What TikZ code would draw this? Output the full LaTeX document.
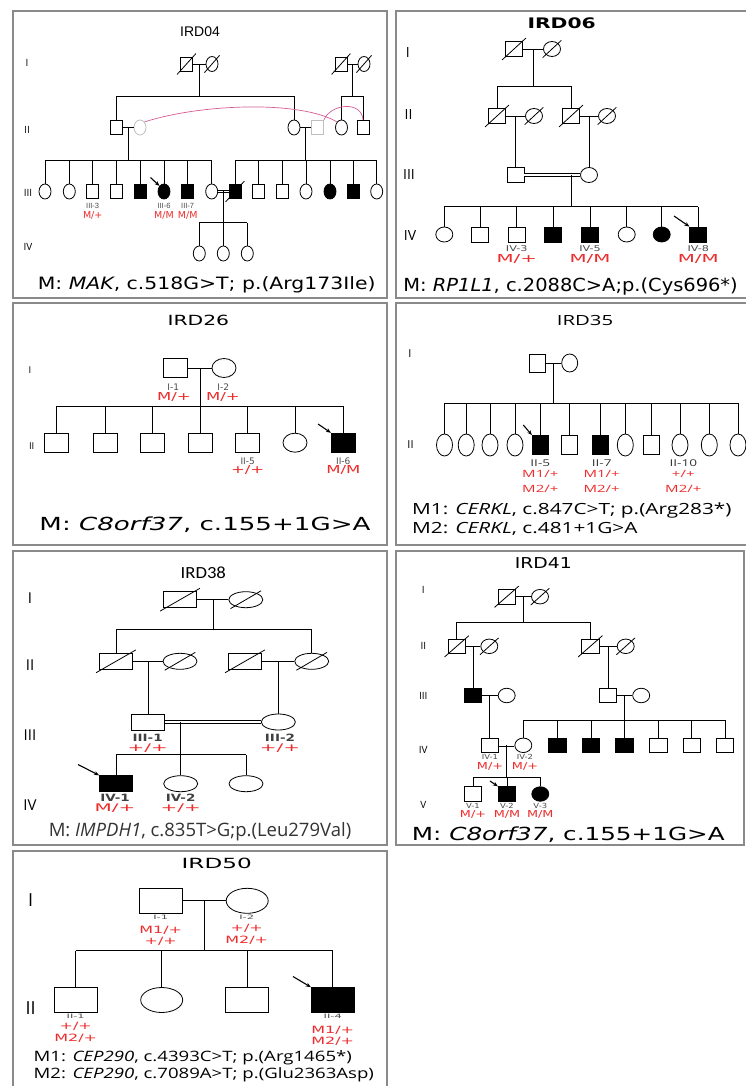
\documentclass[tikz,border=0pt]{standalone}
\usepackage{fontspec}
\setmainfont{Open Sans}
\newfontfamily\dejavu{DejaVu Sans}
\newfontfamily\arial{Liberation Sans}
\newfontfamily\calibri{Carlito}
\usepackage{graphicx}
\usetikzlibrary{arrows.meta, calc, shapes.geometric}

\definecolor{vermelho}{RGB}{238,44,44}
\definecolor{rosa}{RGB}{214,92,150}
\definecolor{moldura}{RGB}{138,138,138}

\newcommand{\tam}[1]{\fontsize{#1}{#1}\selectfont}
\newcommand{\esticar}[2]{\scalebox{#1}[1]{#2}}
\newcommand{\falecido}[1]{\draw ([shift={(-3pt,-3pt)}]#1.south west) -- ([shift={(3pt,3pt)}]#1.north east);}

\begin{document}
\begin{tikzpicture}[
    x=1pt, y=-1pt,
    line width=0.8pt,
    painel/.style={draw=moldura, line width=2.6pt},
    homem/.style={draw, rectangle, inner sep=0pt, fill=white},
    mulher/.style={draw, ellipse, inner sep=0pt, fill=white},
    afetado/.style={fill=black},
    claro/.style={draw=black!25},
    consang/.style={double, double distance=1.8pt},
    geracao/.style={inner sep=0pt, font=\tam{10}},
    ident/.style={inner sep=0pt, text=black!70},
    geno/.style={inner sep=0pt, text=vermelho},
    rotulo/.style={inner sep=0pt},
    seta/.style={-{Stealth[length=5pt, width=4pt]}, line width=1.1pt},
    ligacao/.style={draw=rosa, line width=0.7pt}
]

\useasboundingbox (0,0) rectangle (746,1086);
\fill[white] (0,0) rectangle (746,1086);

% ============================================================
% IRD04
% ============================================================

\draw[painel] (13,11) rectangle (387,298);
\node[rotulo, font=\arial\tam{14}] (tit04) at (200,32) {IRD04};
\node[geracao] (ger04a) at (27,63) {I};
\node[geracao] (ger04b) at (27,130) {II};
\node[geracao] (ger04c) at (28,193) {III};
\node[geracao] (ger04d) at (28,247) {IV};

\begin{scope}[
    homem/.append style={minimum width=12pt, minimum height=14pt},
    mulher/.append style={minimum width=12pt, minimum height=15pt},
    ident/.append style={font=\arial\tam{7.5}},
    geno/.append style={font=\dejavu\tam{9.5}}
]
\node[homem] (a1) at (186.5,64) {};
\node[mulher] (a2) at (212,64) {};
\node[homem] (a3) at (341,64) {};
\node[mulher] (a4) at (364,64) {};
\foreach \n in {a1,a2,a3,a4} \falecido{\n}
\draw (a1) -- (a2);
\draw (a3) -- (a4);
\coordinate (a12) at ($(a1)!.5!(a2)$);
\coordinate (a34) at ($(a3)!.5!(a4)$);

\node[homem] (b1) at (116,127.5) {};
\node[mulher, claro] (b2) at (140,127.5) {};
\node[mulher] (b3) at (294,127.5) {};
\node[homem, claro] (b4) at (317.5,127.5) {};
\node[mulher] (b5) at (341.5,127.5) {};
\node[homem] (b6) at (363,127.5) {};
\draw (b1) -- (b2);
\draw (b3) -- (b4);
\draw (a12) -- (a12 |- 0,96);
\draw (a34) -- (a34 |- 0,96);
\draw (b1 |- 0,96) -- (b3 |- 0,96);
\draw (b5 |- 0,96) -- (b6 |- 0,96);
\foreach \n in {b1,b3,b5,b6} \draw (\n.north) -- (\n |- 0,96);
\coordinate (b12) at ($(b1)!.5!(b2)$);
\coordinate (b34) at ($(b3)!.5!(b4)$);
\draw[ligacao] (b2.north east) .. controls (200,104) and (300,100) .. (b5.north west);
\draw[ligacao] (b4.north east) .. controls (330,104) and (362,100) .. (b6.north);

\node[mulher] (c1) at (45,191.5) {};
\node[mulher] (c2) at (69.3,191.5) {};
\node[homem] (c3) at (92.7,191.5) {};
\node[homem] (c4) at (116.7,191.5) {};
\node[homem, afetado] (c5) at (140,191.5) {};
\node[mulher, afetado] (c6) at (164,191.5) {};
\node[homem, afetado] (c7) at (187.7,191.5) {};
\node[mulher] (c8) at (211.7,191.5) {};
\node[homem, afetado] (d1) at (235,191.5) {};
\node[homem] (d2) at (258.3,191.5) {};
\node[homem] (d3) at (282.7,191.5) {};
\node[mulher] (d4) at (306,191.5) {};
\node[mulher, afetado] (d5) at (330,191.5) {};
\node[homem, afetado] (d6) at (353.3,191.5) {};
\node[mulher] (d7) at (376.7,191.5) {};
\draw (b12) -- (b12 |- 0,160);
\draw (b34) -- (b34 |- 0,160);
\draw (c1 |- 0,160) -- (c8 |- 0,160);
\draw (d1 |- 0,160) -- (d7 |- 0,160);
\foreach \i in {1,...,8} \draw (c\i.north) -- (c\i |- 0,160);
\foreach \i in {1,...,7} \draw (d\i.north) -- (d\i |- 0,160);
\falecido{d1}
\draw[consang] (c8) -- (d1);
\coordinate (cd) at ($(c8)!.5!(d1)$);

\node[mulher] (e1) at (199.3,253.5) {};
\node[mulher] (e2) at (223.3,253.5) {};
\node[mulher] (e3) at (247.3,253.5) {};
\draw (cd) -- (cd |- 0,222.7);
\draw (e1 |- 0,222.7) -- (e3 |- 0,222.7);
\foreach \i in {1,2,3} \draw (e\i.north) -- (e\i |- 0,222.7);

\node[ident] (id04a) at (92.7,205.5) {III-3};
\node[geno] (gen04a) at (92.7,215) {M/+};
\node[ident] (id04b) at (164,205.5) {III-6};
\node[geno] (gen04b) at (164,215) {M/M};
\node[ident] (id04c) at (187.7,205.5) {III-7};
\node[geno] (gen04c) at (187.7,215) {M/M};
\coordinate (s04) at (150.5,177.5);
\draw[seta] (s04) -- (c6.north west);
\end{scope}

\node[rotulo, font=\dejavu\tam{17}] (rod04) at (206.7,285) {\esticar{1.2}{M: \textit{MAK}, c.518G>T; p.(Arg173Ile)}};

% ============================================================
% IRD06
% ============================================================

\draw[painel] (396,11) rectangle (752,298);
\node[rotulo, font=\dejavu\bfseries\tam{14.5}] (tit06) at (561.7,23.5) {\esticar{1.4}{IRD06}};
\node[geracao, font=\tam{14}] (ger06a) at (407.7,53) {I};
\node[geracao, font=\tam{14}] (ger06b) at (408.5,115) {II};
\node[geracao, font=\tam{14}] (ger06c) at (409,175) {III};
\node[geracao, font=\tam{14}] (ger06d) at (410,236) {IV};

\begin{scope}[
    homem/.append style={minimum width=17pt, minimum height=15pt},
    mulher/.append style={minimum width=17pt, minimum height=15pt},
    ident/.append style={font=\dejavu\tam{8}},
    geno/.append style={font=\dejavu\tam{11}}
]
\node[homem] (f1) at (514,49) {};
\node[mulher] (f2) at (552,49) {};
\draw (f1) -- (f2);
\foreach \n in {f1,f2} \falecido{\n}
\coordinate (f12) at ($(f1)!.5!(f2)$);

\node[homem] (f3) at (497,116) {};
\node[mulher] (f4) at (534,116) {};
\node[homem] (f5) at (571,116) {};
\node[mulher] (f6) at (607,116) {};
\draw (f12) -- (f12 |- 0,86);
\draw (f3 |- 0,86) -- (f5 |- 0,86);
\foreach \n in {f3,f5} \draw (\n.north) -- (\n |- 0,86);
\draw (f3) -- (f4);
\draw (f5) -- (f6);
\foreach \n in {f3,f4,f5,f6} \falecido{\n}
\coordinate (f34) at ($(f3)!.5!(f4)$);
\coordinate (f56) at ($(f5)!.5!(f6)$);

\node[homem] (f7) at (f34 |- 0,175) {};
\node[mulher] (f8) at (f56 |- 0,175) {};
\draw (f34) -- (f7.north);
\draw (f56) -- (f8.north);
\draw[consang] (f7) -- (f8);
\coordinate (f78) at (571,175);

\node[mulher] (g1) at (444.3,234.5) {};
\node[homem] (g2) at (480,234.5) {};
\node[homem] (g3) at (516.7,234.5) {};
\node[homem, afetado] (g4) at (553.3,234.5) {};
\node[homem, afetado] (g5) at (590,234.5) {};
\node[mulher] (g6) at (626.7,234.5) {};
\node[mulher, afetado] (g7) at (661.7,234.5) {};
\node[homem, afetado] (g8) at (698.3,234.5) {};
\draw (f78) -- (f78 |- 0,206.7);
\draw (g1 |- 0,206.7) -- (g8 |- 0,206.7);
\foreach \i in {1,...,8} \draw (g\i.north) -- (g\i |- 0,206.7);

\node[ident] (id06a) at (516.7,249) {\esticar{1.4}{IV-3}};
\node[geno] (gen06a) at (516.7,259) {\esticar{1.8}{M/+}};
\node[ident] (id06b) at (590,249) {\esticar{1.4}{IV-5}};
\node[geno] (gen06b) at (590,259) {\esticar{1.8}{M/M}};
\node[ident] (id06c) at (698.3,249) {\esticar{1.4}{IV-8}};
\node[geno] (gen06c) at (698.3,259) {\esticar{1.8}{M/M}};
\coordinate (s06) at (674,216);
\draw[seta] (s06) -- (g8.north west);
\end{scope}

\node[rotulo, anchor=west, font=\dejavu\tam{18}] (rod06) at (403,286.7) {\esticar{1.08}{M: \textit{RP1L1}, c.2088C>A;p.(Cys696*)}};

% ============================================================
% IRD26
% ============================================================

\draw[painel] (13,303) rectangle (387,545);
\node[rotulo, font=\dejavu\tam{14}] (tit26) at (198.3,320) {\esticar{1.45}{IRD26}};
\node[geracao, font=\tam{9.5}] (ger26a) at (30,370) {I};
\node[geracao, font=\tam{9.5}] (ger26b) at (31.7,445.7) {II};

\begin{scope}[
    homem/.append style={minimum width=24pt, minimum height=19pt},
    mulher/.append style={minimum width=24pt, minimum height=19pt},
    ident/.append style={font=\dejavu\tam{9}},
    geno/.append style={font=\dejavu\tam{11}}
]
\node[homem] (h1) at (175.8,368) {};
\node[mulher] (h2) at (224,368) {};
\draw (h1) -- (h2);
\coordinate (h12) at ($(h1)!.5!(h2)$);

\node[homem] (k1) at (56.7,442.7) {};
\node[homem] (k2) at (105,442.7) {};
\node[homem] (k3) at (152.7,442.7) {};
\node[homem] (k4) at (200,442.7) {};
\node[homem] (k5) at (247.7,442.7) {};
\node[mulher] (k6) at (295,442.7) {};
\node[homem, afetado] (k7) at (343.3,442.7) {};
\draw (h12) -- (h12 |- 0,406);
\draw (k1 |- 0,406) -- (k7 |- 0,406);
\foreach \i in {1,...,7} \draw (k\i.north) -- (k\i |- 0,406);

\node[ident] (id26a) at (173.3,387.3) {I-1};
\node[geno] (gen26a) at (174,397.3) {\esticar{1.5}{M/+}};
\node[ident] (id26b) at (223.3,387.3) {I-2};
\node[geno] (gen26b) at (223,397.3) {\esticar{1.5}{M/+}};
\node[ident] (id26c) at (247.7,461) {II-5};
\node[geno] (gen26c) at (247.7,469.5) {\esticar{1.5}{+/+}};
\node[ident] (id26d) at (343.3,461) {II-6};
\node[geno] (gen26d) at (343.3,469.5) {\esticar{1.5}{M/M}};
\coordinate (s26) at (318,424);
\draw[seta] (s26) -- (k7.north west);
\end{scope}

\node[rotulo, font=\dejavu\tam{18}] (rod26) at (205,525) {\esticar{1.45}{M: \textit{C8orf37}, c.155+1G>A}};

% ============================================================
% IRD35
% ============================================================

\draw[painel] (396,303) rectangle (752,545);
\node[rotulo, font=\tam{14}] (tit35) at (585,320) {\esticar{1.45}{IRD35}};
\node[geracao, font=\tam{11}] (ger35a) at (410,354) {I};
\node[geracao, font=\tam{11}] (ger35b) at (410.5,445) {II};

\begin{scope}[
    homem/.append style={minimum width=16pt, minimum height=19pt},
    mulher/.append style={minimum width=16pt, minimum height=22pt},
    ident/.append style={font=\tam{9.4}, text=black!80},
    geno/.append style={font=\tam{10}}
]
\node[homem, minimum height=18pt] (p1) at (537.7,363) {};
\node[mulher, minimum height=18pt] (p2) at (569.7,363) {};
\draw (p1) -- (p2);
\coordinate (p12) at ($(p1)!.5!(p2)$);

\node[mulher] (q1) at (444.5,445) {};
\node[mulher] (q2) at (466.2,445) {};
\node[mulher] (q3) at (490,445) {};
\node[mulher] (q4) at (515,445) {};
\node[homem, afetado] (q5) at (540.3,445) {};
\node[homem] (q6) at (569,445) {};
\node[homem, afetado] (q7) at (600.7,445) {};
\node[mulher] (q8) at (625.3,445) {};
\node[homem] (q9) at (651.7,445) {};
\node[mulher] (q10) at (680,445) {};
\node[mulher] (q11) at (709.3,445) {};
\node[mulher] (q12) at (738,445) {};
\draw (p12) -- (p12 |- 0,403.3);
\draw (q1 |- 0,403.3) -- (q12 |- 0,403.3);
\foreach \i in {1,...,12} \draw (q\i.north) -- (q\i |- 0,403.3);

\node[ident] (id35a) at (540.3,462.7) {\esticar{1.45}{II-5}};
\node[geno] (gen35a) at (540.3,474.3) {\esticar{1.5}{M1/+}};
\node[geno] (gen35b) at (540.3,489.3) {\esticar{1.5}{M2/+}};
\node[ident] (id35b) at (601.7,462.7) {\esticar{1.45}{II-7}};
\node[geno] (gen35c) at (601.7,474.3) {\esticar{1.5}{M1/+}};
\node[geno] (gen35d) at (601.7,489.3) {\esticar{1.5}{M2/+}};
\node[ident] (id35c) at (683.3,462.7) {\esticar{1.45}{II-10}};
\node[geno] (gen35e) at (683.3,474.3) {\esticar{1.5}{+/+}};
\node[geno] (gen35f) at (683.3,489.3) {\esticar{1.5}{M2/+}};
\coordinate (s35) at (523.3,425);
\draw[seta] (s35) -- (q5.north west);
\end{scope}

\node[rotulo, anchor=west, font=\tam{15.4}] (rod35a) at (411.7,510.7) {\esticar{1.35}{M1: \textit{CERKL}, c.847C>T; p.(Arg283*)}};
\node[rotulo, anchor=west, font=\tam{15.4}] (rod35b) at (411.7,529.3) {\esticar{1.35}{M2: \textit{CERKL}, c.481+1G>A}};

% ============================================================
% IRD38
% ============================================================

\draw[painel] (13,551) rectangle (387,845);
\node[rotulo, font=\calibri\tam{17}] (tit38) at (203.3,573) {\esticar{1.1}{IRD38}};
\node[geracao, font=\tam{15}] (ger38a) at (30,598) {I};
\node[geracao, font=\tam{15}] (ger38b) at (30,664.7) {II};
\node[geracao, font=\tam{15}] (ger38c) at (30,734.7) {III};
\node[geracao, font=\tam{15}] (ger38d) at (30,804.7) {IV};

\begin{scope}[
    homem/.append style={minimum width=33pt, minimum height=16pt},
    mulher/.append style={minimum width=34pt, minimum height=16pt},
    ident/.append style={font=\dejavu\bfseries\tam{10}, text=black!75},
    geno/.append style={font=\dejavu\tam{10.5}}
]
\node[homem] (u1) at (180,599.7) {};
\node[mulher] (u2) at (245.8,599.7) {};
\draw (u1) -- (u2);
\coordinate (u12) at ($(u1)!.5!(u2)$);

\node[homem] (u3) at (116,661.3) {};
\node[mulher] (u4) at (180,661.3) {};
\node[homem] (u5) at (245,661.3) {};
\node[mulher] (u6) at (311.7,661.3) {};
\foreach \n in {u1,u2,u3,u4,u5,u6} \falecido{\n}
\draw (u12) -- (u12 |- 0,629.7);
\draw (u3 |- 0,629.7) -- (u6 |- 0,629.7);
\foreach \n in {u3,u6} \draw (\n.north) -- (\n |- 0,629.7);
\draw (u3) -- (u4);
\draw (u5) -- (u6);
\coordinate (u34) at ($(u3)!.5!(u4)$);
\coordinate (u56) at ($(u5)!.5!(u6)$);

\node[homem] (u7) at (u34 |- 0,722) {};
\node[mulher] (u8) at (u56 |- 0,722) {};
\draw (u34) -- (u7.north);
\draw (u56) -- (u8.north);
\draw[consang] (u7) -- (u8);
\coordinate (u78) at (180.7,722);

\node[homem, afetado] (u9) at (116,783.7) {};
\node[mulher] (u10) at (180.7,783.7) {};
\node[mulher] (u11) at (246,783.7) {};
\draw (u78) -- (u78 |- 0,754.7);
\draw (u9 |- 0,754.7) -- (u11 |- 0,754.7);
\foreach \i in {9,10,11} \draw (u\i.north) -- (u\i |- 0,754.7);

\node[ident] (id38a) at (147.7,738) {\esticar{1.35}{III-1}};
\node[geno] (gen38a) at (147.7,748) {\esticar{1.9}{+/+}};
\node[ident] (id38b) at (280,738) {\esticar{1.35}{III-2}};
\node[geno] (gen38b) at (280,748) {\esticar{1.9}{+/+}};
\node[ident] (id38c) at (115,798) {\esticar{1.35}{IV-1}};
\node[geno] (gen38c) at (115,808) {\esticar{1.9}{M/+}};
\node[ident] (id38d) at (180.7,798) {\esticar{1.35}{IV-2}};
\node[geno] (gen38d) at (180.7,808) {\esticar{1.9}{+/+}};
\coordinate (s38) at (78,764.5);
\draw[seta] (s38) -- (u9.north west);
\end{scope}

\node[rotulo, font=\tam{18.5}, text=black!80] (rod38) at (200,831.7) {M: \textit{IMPDH1}, c.835T>G;p.(Leu279Val)};

% ============================================================
% IRD41
% ============================================================

\draw[painel] (396,551) rectangle (744,845);
\node[rotulo, font=\dejavu\tam{15}] (tit41) at (543.3,563) {\esticar{1.25}{IRD41}};
\node[geracao] (ger41a) at (423.3,589.7) {I};
\node[geracao] (ger41b) at (423.3,645.7) {II};
\node[geracao] (ger41c) at (423.3,696.3) {III};
\node[geracao] (ger41d) at (423.3,749.7) {IV};
\node[geracao] (ger41e) at (423.3,804.7) {V};

\begin{scope}[
    homem/.append style={minimum width=17.5pt, minimum height=14.5pt},
    mulher/.append style={minimum width=17pt, minimum height=14.5pt},
    ident/.append style={font=\dejavu\tam{7}},
    geno/.append style={font=\dejavu\tam{9.5}}
]
\node[homem] (v1) at (506.7,596.7) {};
\node[mulher] (v2) at (540,596.7) {};
\draw (v1) -- (v2);
\coordinate (v12) at ($(v1)!.5!(v2)$);

\node[homem] (v3) at (456.7,646.3) {};
\node[mulher] (v4) at (489.3,646.3) {};
\node[homem] (v5) at (590.3,646.3) {};
\node[mulher] (v6) at (625.7,646.3) {};
\foreach \n in {v1,v2,v3,v4,v5,v6} \falecido{\n}
\draw (v12) -- (v12 |- 0,622);
\draw (v3 |- 0,622) -- (v5 |- 0,622);
\foreach \n in {v3,v5} \draw (\n.north) -- (\n |- 0,622);
\draw (v3) -- (v4);
\draw (v5) -- (v6);
\coordinate (v34) at ($(v3)!.5!(v4)$);
\coordinate (v56) at ($(v5)!.5!(v6)$);

\node[homem, afetado] (v7) at (v34 |- 0,695.5) {};
\node[mulher] (v8) at (506.7,695.5) {};
\node[homem] (v9) at (v56 |- 0,695.5) {};
\node[mulher] (v10) at (641.2,695.5) {};
\draw (v34) -- (v7.north);
\draw (v56) -- (v9.north);
\draw (v7) -- (v8);
\draw (v9) -- (v10);
\coordinate (v78) at ($(v7)!.5!(v8)$);
\coordinate (v910) at ($(v9)!.5!(v10)$);

\node[homem] (v11) at (v78 |- 0,745.3) {};
\node[mulher] (v12) at (523.3,745.3) {};
\node[homem, afetado] (v13) at (557.3,745.3) {};
\node[homem, afetado] (v14) at (591,745.3) {};
\node[homem, afetado] (v15) at (624.3,745.3) {};
\node[homem] (v16) at (658.3,745.3) {};
\node[homem] (v17) at (691.7,745.3) {};
\node[homem] (v18) at (725,745.3) {};
\draw (v78) -- (v11.north);
\draw (v910) -- (v910 |- 0,720.3);
\draw (v12 |- 0,720.3) -- (v18 |- 0,720.3);
\foreach \i in {12,...,18} \draw (v\i.north) -- (v\i |- 0,720.3);
\draw[consang] (v11) -- (v12);
\coordinate (v1112) at ($(v11)!.5!(v12)$);

\node[homem] (v19) at (473,794) {};
\node[homem, afetado] (v20) at (507,794) {};
\node[mulher, afetado] (v21) at (540.3,794) {};
\draw (v1112) -- (v1112 |- 0,777.3);
\draw (v19 |- 0,777.3) -- (v21 |- 0,777.3);
\foreach \i in {19,20,21} \draw (v\i.north) -- (v\i |- 0,777.3);

\node[ident] (id41a) at (490,757) {\esticar{1.2}{IV-1}};
\node[geno] (gen41a) at (490,766.3) {\esticar{1.35}{M/+}};
\node[ident] (id41b) at (525,757) {\esticar{1.2}{IV-2}};
\node[geno] (gen41b) at (525,766.3) {\esticar{1.35}{M/+}};
\node[ident] (id41c) at (473,805.7) {\esticar{1.2}{V-1}};
\node[geno] (gen41c) at (473,814.7) {\esticar{1.35}{M/+}};
\node[ident] (id41d) at (507,805.7) {\esticar{1.2}{V-2}};
\node[geno] (gen41d) at (507,814.7) {\esticar{1.35}{M/M}};
\node[ident] (id41e) at (540.3,805.7) {\esticar{1.2}{V-3}};
\node[geno] (gen41e) at (540.3,814.7) {\esticar{1.35}{M/M}};
\coordinate (s41) at (490,781);
\draw[seta] (s41) -- (v20.north west);
\end{scope}

\node[rotulo, font=\dejavu\tam{18}] (rod41) at (568.3,834.7) {\esticar{1.37}{M: \textit{C8orf37}, c.155+1G>A}};

% ============================================================
% IRD50
% ============================================================

\draw[painel] (13,851) rectangle (387,1095);
\node[rotulo, font=\dejavu\tam{14}] (tit50) at (216.7,863.3) {\esticar{1.65}{IRD50}};
\node[geracao, font=\tam{18}] (ger50a) at (30.7,900) {I};
\node[geracao, font=\tam{18}] (ger50b) at (30.7,1008.3) {II};

\begin{scope}[
    homem/.append style={minimum width=43pt, minimum height=25pt},
    mulher/.append style={minimum width=42pt, minimum height=25pt},
    ident/.append style={font=\dejavu\tam{6}},
    geno/.append style={font=\dejavu\tam{10}}
]
\node[homem] (w1) at (161,900.8) {};
\node[mulher] (w2) at (247.2,900.8) {};
\draw (w1) -- (w2);
\coordinate (w12) at ($(w1)!.5!(w2)$);

\node[homem] (w3) at (75.7,1000) {};
\node[mulher] (w4) at (161.7,1000) {};
\node[homem] (w5) at (247.3,1000) {};
\node[homem, afetado] (w6) at (332.7,1000) {};
\draw (w12) -- (w12 |- 0,950.7);
\draw (w3 |- 0,950.7) -- (w6 |- 0,950.7);
\foreach \i in {3,...,6} \draw (w\i.north) -- (w\i |- 0,950.7);

\node[ident] (id50a) at (160.7,917.7) {\esticar{1.9}{I-1}};
\node[geno] (gen50a) at (160.7,930) {\esticar{1.6}{M1/+}};
\node[geno] (gen50b) at (160.7,941.7) {\esticar{1.6}{+/+}};
\node[ident] (id50b) at (246.7,917.7) {\esticar{1.9}{I-2}};
\node[geno] (gen50c) at (246.7,928.3) {\esticar{1.6}{+/+}};
\node[geno] (gen50d) at (246.7,940) {\esticar{1.6}{M2/+}};
\node[ident] (id50c) at (75.7,1016.7) {\esticar{1.9}{II-1}};
\node[geno] (gen50e) at (75.7,1026.7) {\esticar{1.6}{+/+}};
\node[geno] (gen50f) at (75.7,1038.3) {\esticar{1.6}{M2/+}};
\node[ident] (id50d) at (332.7,1016.7) {\esticar{1.9}{II-4}};
\node[geno] (gen50g) at (332.7,1030) {\esticar{1.6}{M1/+}};
\node[geno] (gen50h) at (332.7,1041.7) {\esticar{1.6}{M2/+}};
\coordinate (s50) at (293,976.5);
\draw[seta] (s50) -- (w6.north west);
\end{scope}

\node[rotulo, anchor=west, font=\tam{14.3}] (rod50a) at (33.3,1057.3) {\esticar{1.3}{M1: \textit{CEP290}, c.4393C>T; p.(Arg1465*)}};
\node[rotulo, anchor=west, font=\tam{14.3}] (rod50b) at (33.3,1075) {\esticar{1.3}{M2: \textit{CEP290}, c.7089A>T; p.(Glu2363Asp)}};

\end{tikzpicture}
\end{document}
